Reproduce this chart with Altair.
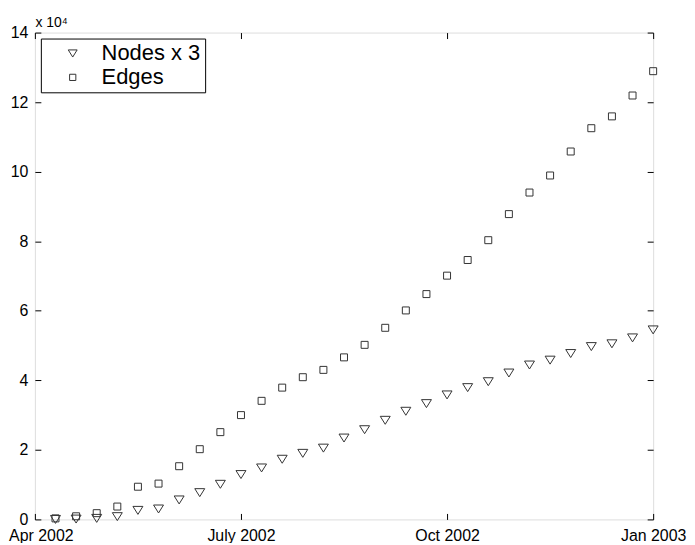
import altair as alt
import pandas as pd

# x positions: 30 evenly spaced samples between Apr 2002 (0) and Jan 2003 (30)
sample_index = list(range(1, 31))
tick_positions = [0, 10, 20, 30]
tick_labels = ["Apr 2002", "July 2002", "Oct 2002", "Jan 2003"]

# values in units of 10^4
nodes_x3 = [0.00, 0.01, 0.03, 0.08, 0.26, 0.30, 0.56, 0.77, 1.01, 1.29,
            1.48, 1.73, 1.90, 2.05, 2.34, 2.58, 2.85, 3.11, 3.33, 3.58,
            3.79, 3.96, 4.21, 4.44, 4.58, 4.77, 4.97, 5.05, 5.22, 5.45]
edges = [0.03, 0.09, 0.18, 0.37, 0.94, 1.03, 1.53, 2.02, 2.51, 3.00,
         3.41, 3.79, 4.09, 4.30, 4.66, 5.02, 5.51, 6.01, 6.48, 7.01,
         7.46, 8.03, 8.78, 9.40, 9.89, 10.58, 11.25, 11.59, 12.19, 12.89]
series_names = ["Nodes x 3", "Edges"]

df = pd.concat([
    pd.DataFrame({"t": sample_index, "v": nodes_x3, "s": series_names[0]}),
    pd.DataFrame({"t": sample_index, "v": edges, "s": series_names[1]}),
])

label_expr = " : ".join(
    f"datum.value == {p} ? '{l}'" for p, l in zip(tick_positions, tick_labels)
) + " : ''"

FONT = "Liberation Sans"
xscale = alt.Scale(domain=[0, 30], nice=False, zero=False)
yscale = alt.Scale(domain=[0, 14], nice=False)
yticks = [0, 2, 4, 6, 8, 10, 12, 14]

TRI_DOWN = "M-1,-0.8L1,-0.8L0,0.8Z"
SQUARE = "M-0.7,-0.7L0.7,-0.7L0.7,0.7L-0.7,0.7Z"

points = alt.Chart(df).mark_point(filled=False, strokeWidth=1, opacity=1, size=100).encode(
    x=alt.X("t:Q", scale=xscale, axis=alt.Axis(
        orient="bottom", values=tick_positions, labelExpr=label_expr,
        offset=-6, domain=False, tickSize=6, tickColor="black", grid=False,
        labelFontSize=16, labelPadding=8, labelColor="black", labelFont=FONT,
        labelOffset={"condition": {"test": "datum.value == 0", "value": 6}, "value": 0},
        labelFlush=False, labelOverlap=False, labelBound=False, title=None)),
    y=alt.Y("v:Q", scale=yscale, axis=alt.Axis(
        orient="left", values=yticks, offset=-6, domain=False, tickSize=6,
        tickColor="black", grid=False, labelFontSize=16, labelPadding=7,
        labelColor="black", labelFont=FONT, labelOverlap=False, labelBound=False,
        labelFlush=False,
        title="x 10⁴", titleAngle=0, titleX=-6, titleY=-6, titleAlign="left",
        titleBaseline="alphabetic", titleFontSize=14, titleFontWeight="normal",
        titleFont=FONT, titleColor="black")),
    shape=alt.Shape("s:N", scale=alt.Scale(domain=series_names,
                                           range=[TRI_DOWN, SQUARE]),
                    legend=alt.Legend(
                        title=None, orient="none", legendX=6, legendY=6,
                        labelFontSize=22, labelFont=FONT, labelColor="black",
                        fillColor="white", strokeColor="black", padding=4,
                        rowPadding=2, symbolOffset=17, labelOffset=18,
                        symbolStrokeColor="#333", symbolStrokeWidth=1,
                        symbolFillColor="white", symbolSize=80)),
    color=alt.value("#333"),
)

frame = alt.Chart(df).mark_point(opacity=0).encode(
    x=alt.X("t:Q", scale=xscale, axis=alt.Axis(
        orient="top", values=tick_positions, offset=-6, domain=False,
        tickSize=6, tickColor="black", labels=False, grid=False, title=None)),
    y=alt.Y("v:Q", scale=yscale, axis=alt.Axis(
        orient="right", values=yticks, offset=-6, domain=False, tickSize=6,
        tickColor="black", labels=False, grid=False, title=None)),
)

chart = alt.layer(points, frame).resolve_axis(
    x="independent", y="independent"
).properties(
    width=621, height=489,
    padding={"left": 27, "top": 23.5, "right": 34, "bottom": 22},
    autosize=alt.AutoSizeParams(type="none"),
).configure_view(stroke="black", strokeWidth=1).configure(
    background="white", font=FONT)

chart.save("out.html", embed_options={"renderer": "svg", "actions": False})
